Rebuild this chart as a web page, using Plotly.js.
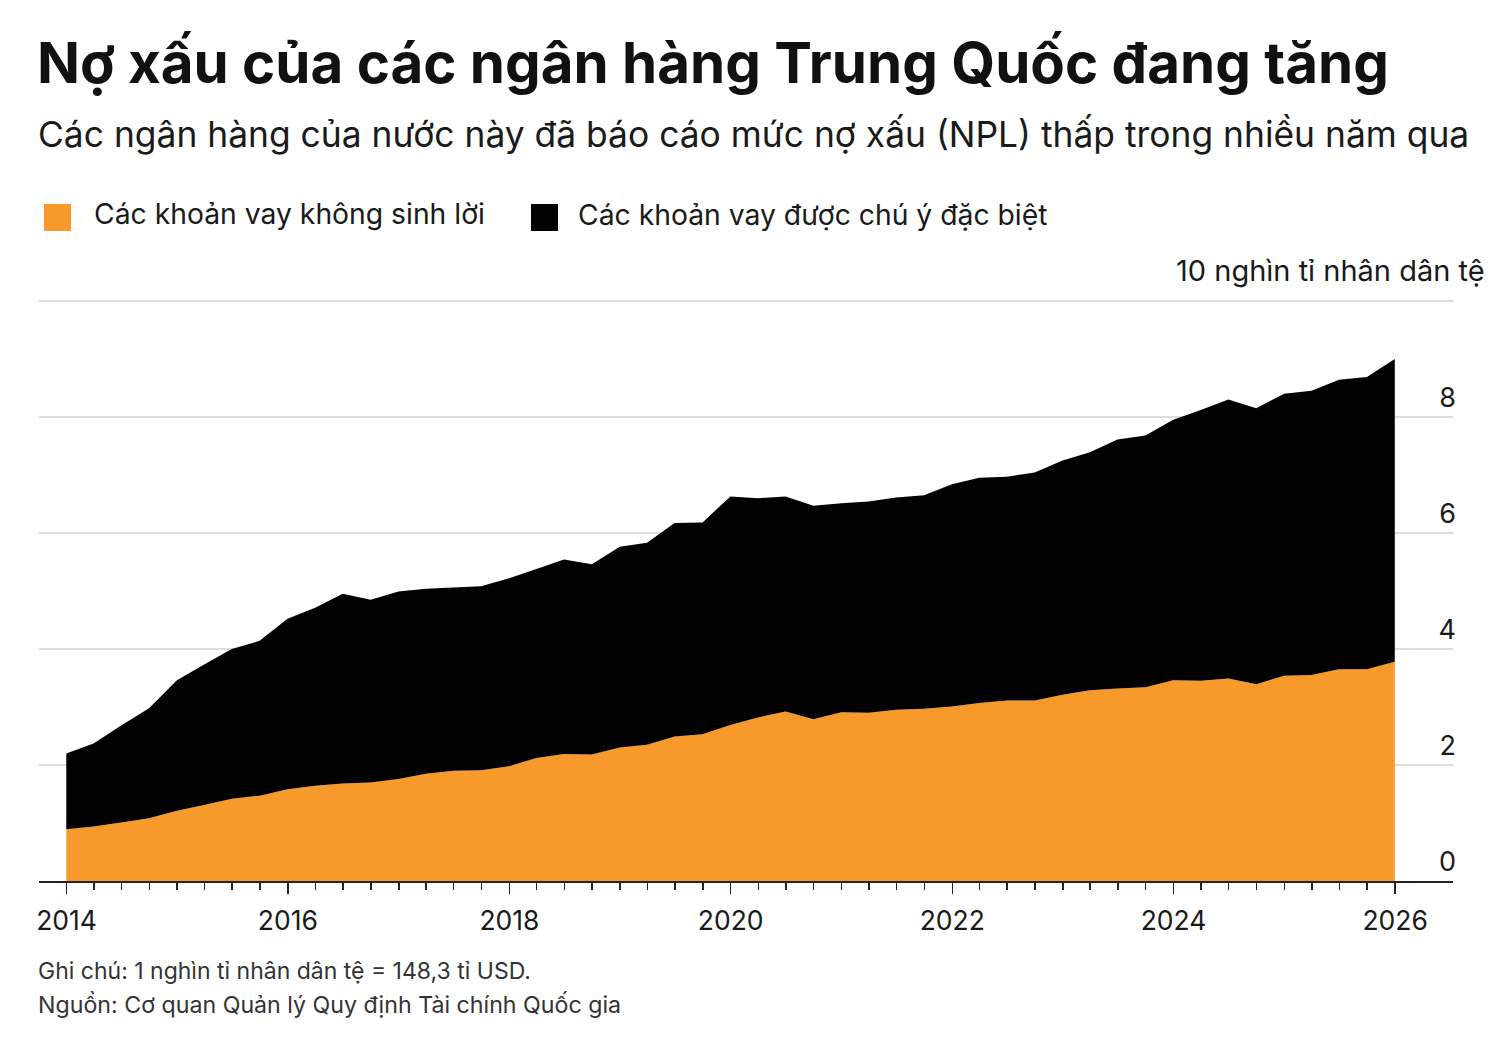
<!DOCTYPE html>
<html>
<head>
<meta charset="utf-8">
<script src="https://cdn.plot.ly/plotly-3.0.1.min.js"></script>
<style>
  html, body { margin: 0; padding: 0; background: #fff; }
  #chart { width: 1499px; height: 1049px; }
</style>
</head>
<body>
<div id="chart"></div>
<script>
// quarter-end values, 2013 Q4 .. 2025 Q4, in trillion yuan
const nonPerforming = [
  0.89, 0.94, 1.01, 1.08, 1.21, 1.31, 1.42, 1.47, 1.58, 1.64,
  1.68, 1.70, 1.76, 1.85, 1.90, 1.91, 1.98, 2.12, 2.19, 2.18,
  2.30, 2.35, 2.49, 2.53, 2.69, 2.82, 2.92, 2.79, 2.91, 2.90,
  2.95, 2.97, 3.01, 3.07, 3.11, 3.11, 3.21, 3.29, 3.32, 3.34,
  3.46, 3.45, 3.49, 3.39, 3.54, 3.55, 3.65, 3.65, 3.78
]
const specialMention = [
  1.31, 1.43, 1.67, 1.90, 2.25, 2.42, 2.58, 2.67, 2.94, 3.07,
  3.27, 3.15, 3.23, 3.19, 3.16, 3.17, 3.24, 3.26, 3.35, 3.28,
  3.46, 3.48, 3.68, 3.65, 3.94, 3.78, 3.71, 3.68, 3.60, 3.64,
  3.66, 3.68, 3.83, 3.88, 3.86, 3.93, 4.04, 4.10, 4.29, 4.34,
  4.49, 4.67, 4.81, 4.76, 4.86, 4.90, 4.99, 5.04, 5.22
]
const seriesNames = ['Các khoản vay không sinh lời', 'Các khoản vay được chú ý đặc biệt']
const yTicks = [0, 2, 4, 6, 8, 10]
const yTickText = ['0', '2', '4', '6', '8', '']

// quarter end dates
let dates = []
let qEnds = ['-03-31', '-06-30', '-09-30', '-12-31']
dates.push('2013-12-31')
for (let yr = 2014; yr <= 2025; yr++) {
  for (q of qEnds) dates.push(yr + q)
}
// minor ticks every quarter from 2014 to 2026
let minorTicks = []
for (let yr = 2014; yr <= 2026; yr++) {
  for (m of ['01', '04', '07', '10']) {
    if (yr == 2026 && m != '01') break
    minorTicks.push(yr + '-' + m + '-01')
  }
}

const ORANGE = '#F8992B'
const FONT = 'Inter, "Noto Sans", sans-serif'

// pixel -> paper helpers (plot area 39..1453 x, 298..881 y)
function px(p) { return (p - 39) / (1453 - 39) }
function py(p) { return (881 - p) / 583 }

var trace1 = {
  x: dates,
  y: nonPerforming,
  name: seriesNames[0],
  stackgroup: 'loans',
  mode: 'none',
  fillcolor: ORANGE,
  line: {width: 0},
  type: 'scatter'
}
var trace2 = {
  x: dates,
  y: specialMention,
  name: seriesNames[1],
  stackgroup: 'loans',
  mode: 'none',
  fillcolor: '#000000',
  line: {width: 0},
  type: 'scatter'
}

var layout = {
  width: 1499,
  height: 1049,
  showlegend: false,
  paper_bgcolor: '#ffffff',
  plot_bgcolor: '#ffffff',
  margin: {l: 39, r: 46, t: 298, b: 168},
  font: {family: FONT, color: '#1a1a1a'},
  xaxis: {
    type: 'date',
    range: ['2013-10-02', '2026-07-11'],
    tickvals: ['2014-01-01', '2016-01-01', '2018-01-01', '2020-01-01', '2022-01-01', '2024-01-01', '2026-01-01'],
    tickformat: '%Y',
    ticks: 'outside',
    ticklen: 11,
    tickwidth: 1.5,
    tickcolor: '#222',
    ticklabelstandoff: 4,
    tickfont: {size: 26.5, color: '#1a1a1a'},
    showgrid: false,
    zeroline: false,
    showline: true,
    linecolor: '#222',
    linewidth: 2,
    minor: {
      tickmode: 'array',
      tickvals: minorTicks,
      ticks: 'outside',
      ticklen: 7,
      tickwidth: 1.5,
      tickcolor: '#222',
      showgrid: false
    }
  },
  yaxis: {
    side: 'right',
    range: [0, 10.05],
    tickmode: 'array',
    tickvals: yTicks,
    ticktext: yTickText,
    ticks: '',
    ticklabelposition: 'inside',
    ticklabelshift: -19,
    ticklabelstandoff: -6,
    tickfont: {size: 27, color: '#1a1a1a'},
    showgrid: true,
    gridcolor: '#dddddd',
    gridwidth: 1.5,
    zeroline: false,
    showline: false,
    fixedrange: true
  },
  shapes: [
    {type: 'rect', xref: 'paper', yref: 'paper', x0: px(44), x1: px(71), y0: py(231), y1: py(204), fillcolor: ORANGE, line: {width: 0}},
    {type: 'rect', xref: 'paper', yref: 'paper', x0: px(531), x1: px(558), y0: py(231), y1: py(204), fillcolor: '#000', line: {width: 0}}
  ],
  annotations: [
    {text: '<b>Nợ xấu của các ngân hàng Trung Quốc đang tăng</b>', xref: 'paper', yref: 'paper', x: px(35), y: py(63), xanchor: 'left', yanchor: 'middle', showarrow: false, font: {size: 56.5, color: '#111'}},
    {text: 'Các ngân hàng của nước này đã báo cáo mức nợ xấu (NPL) thấp trong nhiều năm qua', xref: 'paper', yref: 'paper', x: px(36), y: py(135), xanchor: 'left', yanchor: 'middle', showarrow: false, font: {size: 35.4, color: '#1a1a1a'}},
    {text: seriesNames[0], xref: 'paper', yref: 'paper', x: px(92), y: py(214), xanchor: 'left', yanchor: 'middle', showarrow: false, font: {size: 28.3, color: '#1a1a1a'}},
    {text: seriesNames[1], xref: 'paper', yref: 'paper', x: px(576), y: py(215), xanchor: 'left', yanchor: 'middle', showarrow: false, font: {size: 28.3, color: '#1a1a1a'}},
    {text: '10 nghìn tỉ nhân dân tệ', xref: 'paper', yref: 'paper', x: px(1487), y: py(270), xanchor: 'right', yanchor: 'middle', showarrow: false, font: {size: 29, color: '#1a1a1a'}},
    {text: 'Ghi chú: 1 nghìn tỉ nhân dân tệ = 148,3 tỉ USD.', xref: 'paper', yref: 'paper', x: px(36), y: py(971), xanchor: 'left', yanchor: 'middle', showarrow: false, font: {size: 23, color: '#333'}},
    {text: 'Nguồn: Cơ quan Quản lý Quy định Tài chính Quốc gia', xref: 'paper', yref: 'paper', x: px(36), y: py(1005), xanchor: 'left', yanchor: 'middle', showarrow: false, font: {size: 23.2, color: '#333'}}
  ]
}

Plotly.newPlot('chart', [trace1, trace2], layout, {displayModeBar: false, staticPlot: true})
</script>
</body>
</html>
